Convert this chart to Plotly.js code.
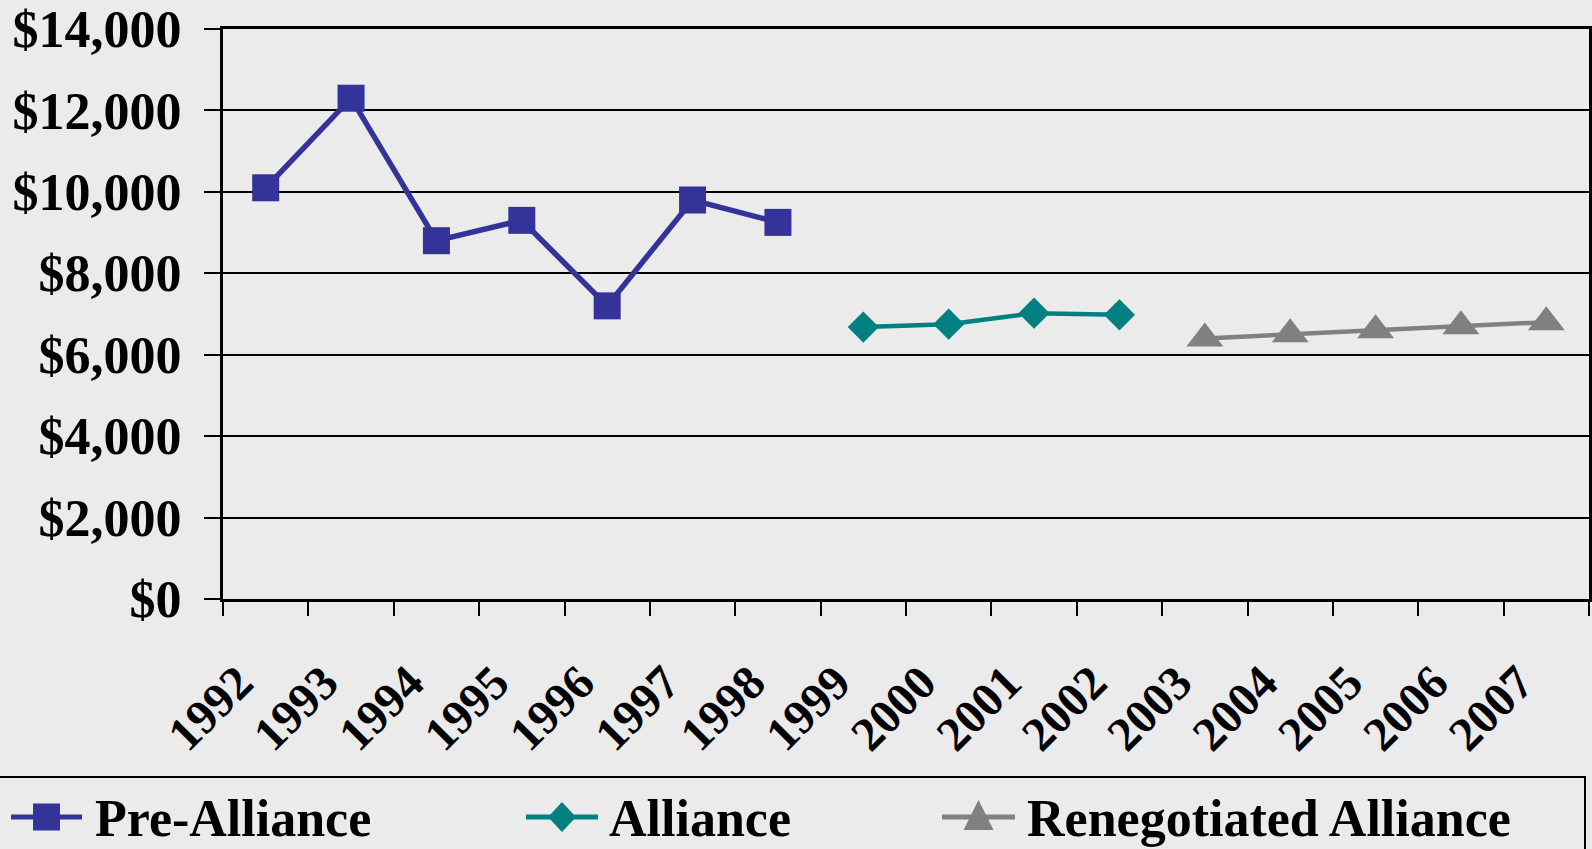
<!DOCTYPE html>
<html>
<head>
<meta charset="utf-8">
<script src="https://cdn.plot.ly/plotly-3.0.1.min.js"></script>
<style>
html,body{margin:0;padding:0;background:#ebebeb;}
#chart{width:1592px;height:849px;}
</style>
</head>
<body>
<div id="chart"></div>
<script>
// Categories (years)
const years = ["1992","1993","1994","1995","1996","1997","1998","1999","2000","2001","2002","2003","2004","2005","2006","2007"];

// Series
const preAllianceYears = ["1992","1993","1994","1995","1996","1997","1998"];
const preAllianceValues = [10100, 12300, 8800, 9300, 7200, 9800, 9250];

const allianceYears = ["1999","2000","2001","2002"];
const allianceValues = [6680, 6750, 7020, 6980];

const renegotiatedYears = ["2003","2004","2005","2006","2007"];
const renegotiatedValues = [6400, 6500, 6600, 6700, 6800];

const seriesNames = ["Pre-Alliance", "Alliance", "Renegotiated Alliance"];
const seriesColors = ["#333399", "#008080", "#808080"];

const FONT = "Liberation Serif, Times New Roman, serif";

const W = 1592, H = 849;
const M = {l: 223, r: 3, t: 29, b: 250};
const plotW = W - M.l - M.r, plotH = H - M.t - M.b;
// convert page pixel to paper coordinate (for the legend box only)
const px2x = px => (px - M.l) / plotW;
const px2y = py => (H - M.b - py) / plotH;

const traces = [
  {
    x: preAllianceYears, y: preAllianceValues, name: seriesNames[0],
    type: "scatter", mode: "lines+markers",
    line: {color: seriesColors[0], width: 5.5},
    marker: {symbol: "square", size: 27, color: seriesColors[0]}
  },
  {
    x: allianceYears, y: allianceValues, name: seriesNames[1],
    type: "scatter", mode: "lines+markers",
    line: {color: seriesColors[1], width: 4.5},
    marker: {symbol: "diamond", size: 24, color: seriesColors[1]}
  },
  {
    x: renegotiatedYears, y: renegotiatedValues, name: seriesNames[2],
    type: "scatter", mode: "lines+markers",
    line: {color: seriesColors[2], width: 4.5},
    marker: {symbol: "triangle-up", size: 32, color: seriesColors[2]}
  }
];

// Legend (drawn as a boxed key below the chart)
const legendLineX = [[11, 82], [526, 598], [942, 1015]];
const legendTextX = [93, 607, 1025];
const legendY = 817;
const legendTextY = 818;

const shapes = [
  {type: "rect", xref: "paper", yref: "paper",
   x0: px2x(-5), x1: px2x(1585), y0: px2y(870), y1: px2y(777),
   line: {color: "#000", width: 2}, fillcolor: "rgba(0,0,0,0)", layer: "below"}
];
const annotations = [];
legendLineX.forEach((lx, i) => {
  const cx = (lx[0] + lx[1]) / 2;
  shapes.push({type: "line", xref: "paper", yref: "paper",
    x0: px2x(lx[0]), x1: px2x(lx[1]), y0: px2y(legendY), y1: px2y(legendY),
    line: {color: seriesColors[i], width: 5}});
  let path;
  if (i === 0) {
    path = `M${cx-13.5},${legendY-13.5} H${cx+13.5} V${legendY+13.5} H${cx-13.5} Z`;
  } else if (i === 1) {
    path = `M${cx},${legendY-15} L${cx+14},${legendY} L${cx},${legendY+15} L${cx-14},${legendY} Z`;
  } else {
    path = `M${cx},${legendY-17} L${cx+15},${legendY+13} L${cx-15},${legendY+13} Z`;
  }
  // convert path pixel coords to paper
  path = path.replace(/(-?\d+(\.\d+)?),(-?\d+(\.\d+)?)/g, (m, a, _a, b) => `${px2x(+a)},${px2y(+b)}`)
             .replace(/H(-?\d+(\.\d+)?)/g, (m, a) => `H${px2x(+a)}`)
             .replace(/V(-?\d+(\.\d+)?)/g, (m, a) => `V${px2y(+a)}`);
  shapes.push({type: "path", xref: "paper", yref: "paper", path: path,
    fillcolor: seriesColors[i], line: {width: 0}});
  annotations.push({xref: "paper", yref: "paper", x: px2x(legendTextX[i]), y: px2y(legendTextY),
    xanchor: "left", yanchor: "middle", showarrow: false, text: seriesNames[i],
    font: {family: FONT, size: 52, color: "#000", weight: "bold"}});
});

const layout = {
  width: W, height: H,
  paper_bgcolor: "#ebebeb", plot_bgcolor: "#ebebeb",
  margin: {l: M.l, r: M.r, t: M.t, b: M.b, pad: 0},
  font: {family: FONT, color: "#000", weight: "bold"},
  showlegend: false,
  xaxis: {
    type: "category", categoryorder: "array", categoryarray: years,
    tickvals: years, ticktext: years,
    range: [-0.5, years.length - 0.5],
    tickson: "boundaries", ticks: "outside", ticklen: 14, tickwidth: 2, tickcolor: "#000",
    tickangle: -45, ticklabelstandoff: 33, ticklabelshift: -27,
    tickfont: {family: FONT, size: 48, color: "#000", weight: "bold"},
    showline: true, linecolor: "#000", linewidth: 3, mirror: true,
    showgrid: false, zeroline: false, fixedrange: true
  },
  yaxis: {
    range: [0, 14000], dtick: 2000, tick0: 0,
    tickformat: "$,.0f",
    ticks: "outside", ticklen: 16, tickwidth: 2, tickcolor: "#000",
    ticklabelstandoff: 12,
    tickfont: {family: FONT, size: 52, color: "#000", weight: "bold"},
    showline: true, linecolor: "#000", linewidth: 3, mirror: true,
    showgrid: true, gridcolor: "#000", gridwidth: 2,
    zeroline: false, fixedrange: true
  },
  shapes: shapes,
  annotations: annotations
};

Plotly.newPlot("chart", traces, layout, {displayModeBar: false, staticPlot: true});
</script>
</body>
</html>
